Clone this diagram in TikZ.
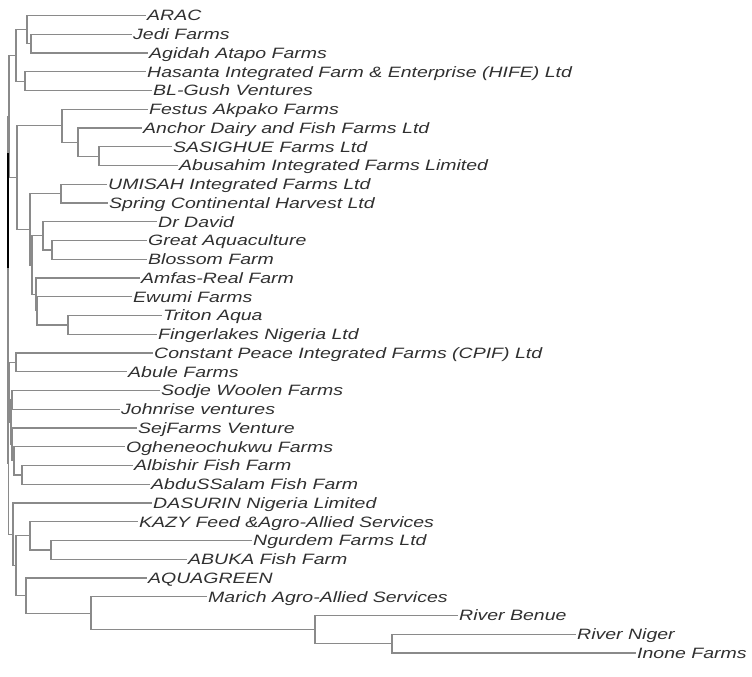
\documentclass[tikz,border=0pt]{standalone}
\usepackage{fontspec}
\usepackage{xcolor}
\newfontfamily\lblfont[FakeStretch=1.3]{Liberation Sans}
\definecolor{branchgray}{HTML}{8A8A8A}
\definecolor{textgray}{HTML}{303030}

\begin{document}
\begin{tikzpicture}[x=1pt, y=-1pt,
	lbl/.style={anchor=west, inner sep=1pt, text height=10.8pt, text depth=0pt, text=textgray, font=\lblfont\itshape\fontsize{15}{18}\selectfont},
	br/.style={draw=branchgray, line width=1.2pt}]
		\useasboundingbox (0, 0) rectangle (752, 677);
		% leaves
		\node[lbl] (arac) at (146, 15.5) {ARAC};
		\node[lbl] (jedi) at (132, 34.25) {Jedi Farms};
		\node[lbl] (agidah) at (148, 53) {Agidah Atapo Farms};
		\node[lbl] (hasanta) at (146, 71.75) {Hasanta Integrated Farm \& Enterprise (HIFE) Ltd};
		\node[lbl] (blgush) at (152, 90.5) {BL-Gush Ventures};
		\node[lbl] (festus) at (148, 109.25) {Festus Akpako Farms};
		\node[lbl] (anchor) at (142, 128) {Anchor Dairy and Fish Farms Ltd};
		\node[lbl] (sasighue) at (172, 146.75) {SASIGHUE Farms Ltd};
		\node[lbl] (abusahim) at (178, 165.5) {Abusahim Integrated Farms Limited};
		\node[lbl] (umisah) at (107, 184.25) {UMISAH Integrated Farms Ltd};
		\node[lbl] (spring) at (108, 203) {Spring Continental Harvest Ltd};
		\node[lbl] (drdavid) at (157, 221.75) {Dr David};
		\node[lbl] (greataqua) at (147, 240.5) {Great Aquaculture};
		\node[lbl] (blossom) at (147, 259.25) {Blossom Farm};
		\node[lbl] (amfas) at (140, 278) {Amfas-Real Farm};
		\node[lbl] (ewumi) at (132, 296.75) {Ewumi Farms};
		\node[lbl] (triton) at (162, 315.5) {Triton Aqua};
		\node[lbl] (fingerlakes) at (157, 334.25) {Fingerlakes Nigeria Ltd};
		\node[lbl] (constant) at (153, 353) {Constant Peace Integrated Farms (CPIF) Ltd};
		\node[lbl] (abule) at (127, 371.75) {Abule Farms};
		\node[lbl] (sodje) at (160, 390.5) {Sodje Woolen Farms};
		\node[lbl] (johnrise) at (120, 409.25) {Johnrise ventures};
		\node[lbl] (sejfarms) at (137, 428) {SejFarms Venture};
		\node[lbl] (oghene) at (125, 446.75) {Ogheneochukwu Farms};
		\node[lbl] (albishir) at (133, 465.5) {Albishir Fish Farm};
		\node[lbl] (abdussalam) at (150, 484.25) {AbduSSalam Fish Farm};
		\node[lbl] (dasurin) at (152, 503) {DASURIN Nigeria Limited};
		\node[lbl] (kazy) at (138, 521.75) {KAZY Feed \&Agro-Allied Services};
		\node[lbl] (ngurdem) at (252, 540.5) {Ngurdem Farms Ltd};
		\node[lbl] (abuka) at (187, 559.25) {ABUKA Fish Farm};
		\node[lbl] (aquagreen) at (147, 578) {AQUAGREEN};
		\node[lbl] (marich) at (207, 596.75) {Marich Agro-Allied Services};
		\node[lbl] (benue) at (458, 615.5) {River Benue};
		\node[lbl] (niger) at (576, 634.25) {River Niger};
		\node[lbl] (inone) at (636, 653) {Inone Farms};
		% joins
		\coordinate (jA) at (31, 43.6);
		\coordinate (aA) at (27, 29.6);
		\coordinate (hB) at (25, 81.1);
		\coordinate (top) at (16, 55.4);
		\coordinate (sa) at (99, 156.1);
		\coordinate (an) at (78, 142.1);
		\coordinate (fe) at (62, 125.7);
		\coordinate (um) at (61, 193.6);
		\coordinate (gb) at (52, 249.9);
		\coordinate (dd) at (43, 235.8);
		\coordinate (tf) at (68, 324.9);
		\coordinate (et) at (37, 310.8);
		\coordinate (am) at (36, 294.4);
		\coordinate (dm) at (32, 265.1);
		\coordinate (ud) at (30, 229.4);
		\coordinate (fu) at (17, 177.5);
		\coordinate (cp) at (16, 362.4);
		\coordinate (sj) at (12, 399.9);
		\coordinate (ab) at (22, 474.9);
		\coordinate (og) at (14, 460.8);
		\coordinate (so) at (12, 444.4);
		\coordinate (sx) at (11, 422.1);
		\coordinate (ni) at (392, 643.6);
		\coordinate (rb) at (315, 629.6);
		\coordinate (mr) at (91, 613.2);
		\coordinate (aq) at (26, 595.6);
		\coordinate (na) at (51, 549.9);
		\coordinate (kz) at (30, 535.8);
		\coordinate (ka) at (16, 565.7);
		\coordinate (da) at (13, 534.4);
		\coordinate (r1) at (9, 116.5);
		\coordinate (r2) at (9.5, 392.3);
		\coordinate (r3) at (8.5, 463.3);
		\coordinate (root) at (8, 289.9);
		\coordinate (rootA) at (8, 153);
		\coordinate (rootB) at (8, 268);
		% branches
		\draw[br] (jA) |- (jedi.west) (jA) |- (agidah.west);
		\draw[br] (aA) |- (arac.west) (aA) |- (jA);
		\draw[br] (hB) |- (hasanta.west) (hB) |- (blgush.west);
		\draw[br] (top) |- (aA) (top) |- (hB);
		\draw[br] (sa) |- (sasighue.west) (sa) |- (abusahim.west);
		\draw[br] (an) |- (anchor.west) (an) |- (sa);
		\draw[br] (fe) |- (festus.west) (fe) |- (an);
		\draw[br] (um) |- (umisah.west) (um) |- (spring.west);
		\draw[br] (gb) |- (greataqua.west) (gb) |- (blossom.west);
		\draw[br] (dd) |- (drdavid.west) (dd) |- (gb);
		\draw[br] (tf) |- (triton.west) (tf) |- (fingerlakes.west);
		\draw[br] (et) |- (ewumi.west) (et) |- (tf);
		\draw[br] (am) |- (amfas.west) (am) |- (et);
		\draw[br] (dm) |- (dd) (dm) |- (am);
		\draw[br] (ud) |- (um) (ud) |- (dm);
		\draw[br] (fu) |- (fe) (fu) |- (ud);
		\draw[br] (cp) |- (constant.west) (cp) |- (abule.west);
		\draw[br] (sj) |- (sodje.west) (sj) |- (johnrise.west);
		\draw[br] (ab) |- (albishir.west) (ab) |- (abdussalam.west);
		\draw[br] (og) |- (oghene.west) (og) |- (ab);
		\draw[br] (so) |- (sejfarms.west) (so) |- (og);
		\draw[br] (sx) |- (sj) (sx) |- (so);
		\draw[br] (ni) |- (niger.west) (ni) |- (inone.west);
		\draw[br] (rb) |- (benue.west) (rb) |- (ni);
		\draw[br] (mr) |- (marich.west) (mr) |- (rb);
		\draw[br] (aq) |- (aquagreen.west) (aq) |- (mr);
		\draw[br] (na) |- (ngurdem.west) (na) |- (abuka.west);
		\draw[br] (kz) |- (kazy.west) (kz) |- (na);
		\draw[br] (ka) |- (kz) (ka) |- (aq);
		\draw[br] (da) |- (dasurin.west) (da) |- (ka);
		\draw[br] (r1) |- (top) (r1) |- (fu);
		\draw[br] (r2) |- (cp) (r2) |- (sx);
		\draw[br] (r3) |- (r2) (r3) |- (da);
		\draw[br] (root) |- (r1) (root) |- (r3);
		\draw[line width=2pt] (rootA) -- (rootB);
	\end{tikzpicture}
\end{document}
